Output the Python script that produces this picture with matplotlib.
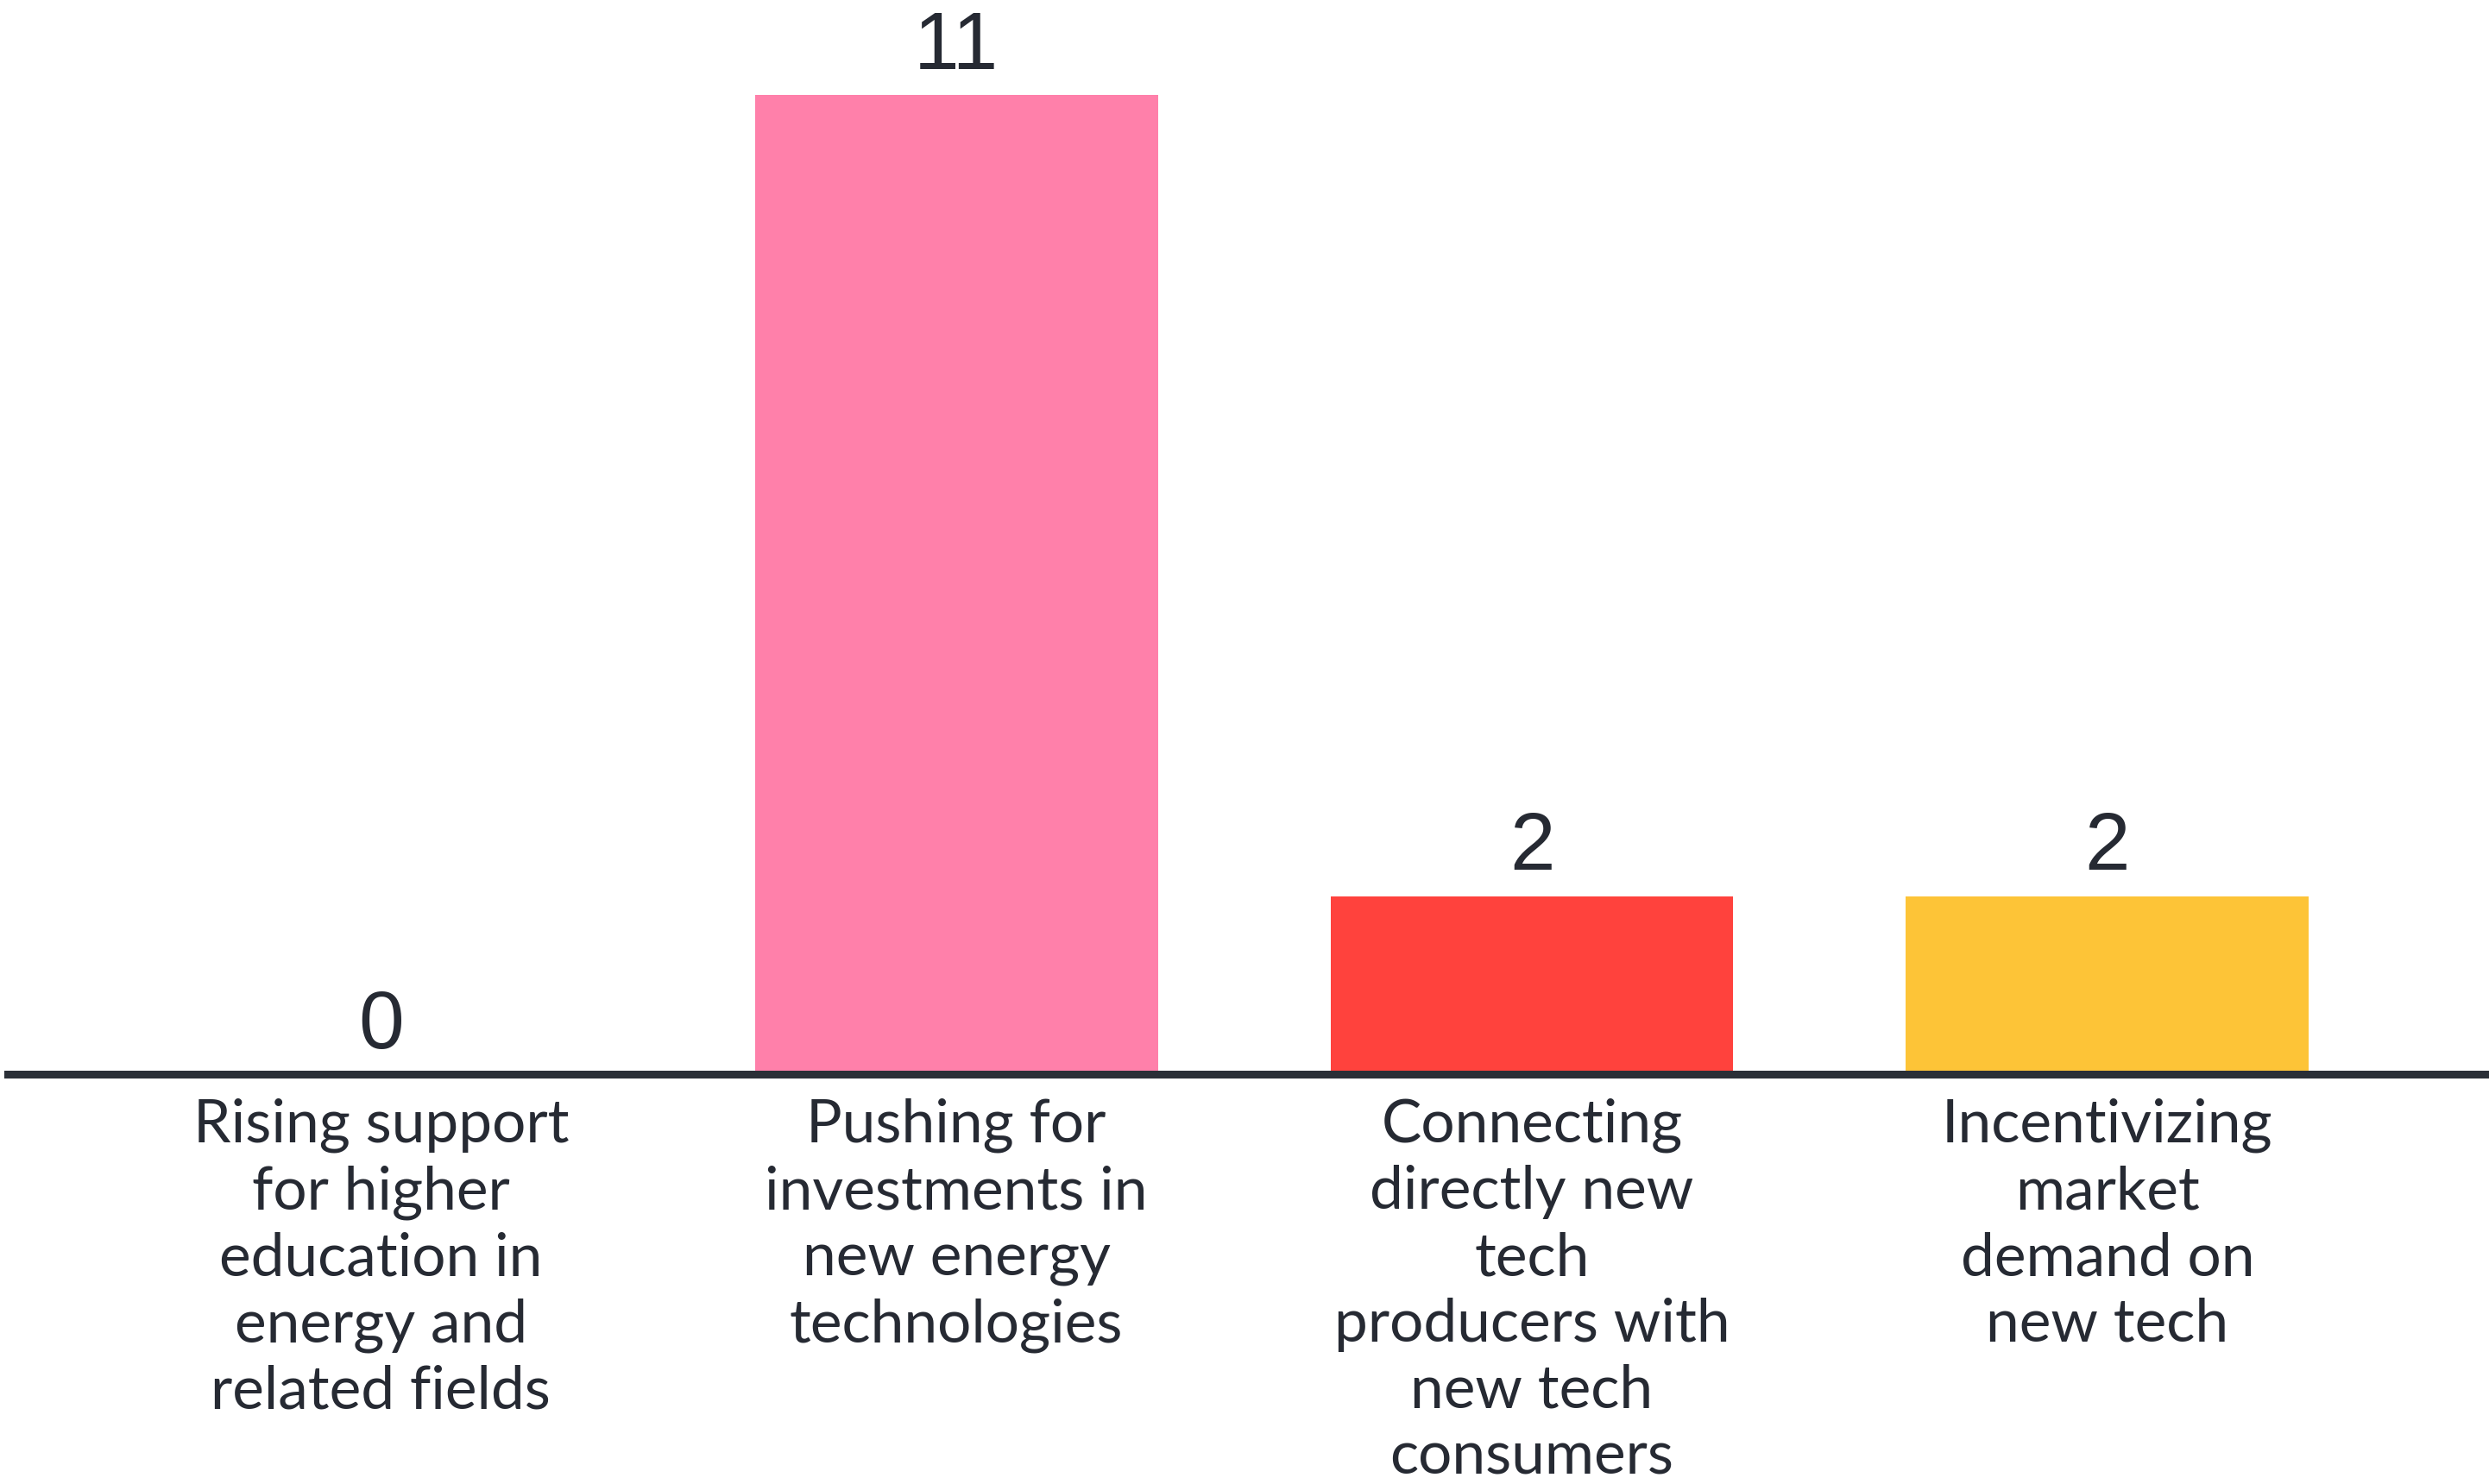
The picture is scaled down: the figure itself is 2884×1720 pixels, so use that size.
import matplotlib
matplotlib.use("Agg")
import matplotlib.pyplot as plt
import matplotlib.transforms as mtransforms

# data
categories = [
    "Rising support\nfor higher\neducation in\nenergy and\nrelated fields",
    "Pushing for\ninvestments in\nnew energy\ntechnologies",
    "Connecting\ndirectly new\ntech\nproducers with\nnew tech\nconsumers",
    "Incentivizing\nmarket\ndemand on\nnew tech",
]
values = [0, 11, 2, 2]
colors = ["#FF80AA", "#FF80AA", "#FF423D", "#FDC437"]

text_color = "#262a33"

fig = plt.figure(figsize=(28.84, 17.20), dpi=100)
fig.patch.set_facecolor("white")
ax = fig.add_axes([5 / 1568, 1 - 677 / 935, 1 - 5 / 1568, 12 * 0.05999])

x = list(range(len(values)))
ax.bar(x, values, width=0.70, color=colors, zorder=2)

ax.set_xlim(-0.648, 3.663)
ax.set_ylim(0, 12)

for side in ["top", "left", "right"]:
    ax.spines[side].set_visible(False)
ax.spines["bottom"].set_linewidth(6.5)
ax.spines["bottom"].set_color("#2a2f37")
ax.spines["bottom"].set_zorder(3)
ax.set_yticks([])
ax.set_xticks([])

# value labels above bars
for xi, v in zip(x, values):
    ax.annotate(str(v), (xi, v), xytext=(0, 22), textcoords="offset points",
                ha="center", va="baseline", fontsize=68, color=text_color,
                family="Liberation Sans")

# category labels under the baseline
trans = mtransforms.blended_transform_factory(ax.transData, fig.transFigure)
for xi, lab in zip(x, categories):
    ax.text(xi, 1 - 692 / 935, lab, transform=trans, ha="center", va="top",
            fontsize=50, color=text_color, family="Lato", linespacing=1.27)

fig.savefig("out.png", dpi=100, facecolor="white")
